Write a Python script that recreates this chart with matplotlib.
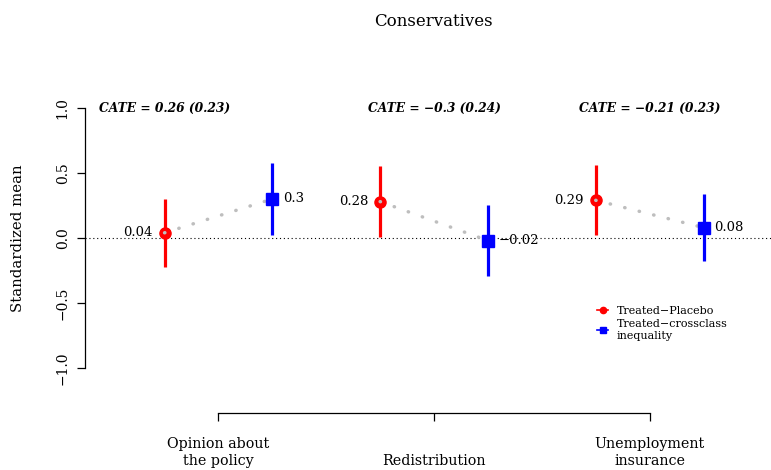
import matplotlib
matplotlib.use("Agg")
import matplotlib.pyplot as plt
from matplotlib.lines import Line2D
import matplotlib.transforms as mtransforms

plt.rcParams['font.family'] = ['DejaVu Serif']

categories = ["Opinion about\nthe policy", "Redistribution", "Unemployment\ninsurance"]
placebo_mean = [0.04, 0.28, 0.29]
placebo_lo = [-0.22, 0.01, 0.02]
placebo_hi = [0.30, 0.55, 0.56]
cross_mean = [0.30, -0.02, 0.08]
cross_lo = [0.02, -0.29, -0.18]
cross_hi = [0.58, 0.25, 0.34]
cate = [0.26, -0.3, -0.21]
cate_se = [0.23, 0.24, 0.23]
yticks = [-1.0, -0.5, 0.0, 0.5, 1.0]
ytick_labels = ["\u22121.0", "\u22120.5", "0.0", "0.5", "1.0"]
series_labels = ["Treated\u2212Placebo", "Treated\u2212crossclass\ninequality"]

def fmt(v):
    return f"{v:g}".replace('-', '\u2212')

fig = plt.figure(figsize=(7.71, 4.70), dpi=100)
ax = fig.add_axes([85/771, 57/470, 686/771, 350/470])
ax.set_xlim(0.381, 3.563)
ax.set_ylim(-1.346, 1.346)

off = 0.25
xs = [1, 2, 3]
ax.axhline(0, color='black', lw=0.8, ls=(0, (1, 2.5)), zorder=1)

for i, x in enumerate(xs):
    xr, xb = x - off, x + off
    ax.plot([xr, xr], [placebo_lo[i], placebo_hi[i]], color='red', lw=2.3, solid_capstyle='butt', zorder=2)
    ax.plot([xr], [placebo_mean[i]], marker='o', ms=8, color='red', zorder=3)
    ax.plot([xr, xb], [placebo_mean[i], cross_mean[i]], color='#BEBEBE', lw=2.5,
            ls=(0, (0.1, 4.2)), dash_capstyle='round', zorder=4)
    ax.plot([xb, xb], [cross_lo[i], cross_hi[i]], color='blue', lw=2.3, solid_capstyle='butt', zorder=5)
    ax.plot([xb], [cross_mean[i]], marker='s', ms=9, color='blue', zorder=6)
    tr_l = mtransforms.offset_copy(ax.transData, fig=fig, x=-12, y=0, units='dots')
    tr_r = mtransforms.offset_copy(ax.transData, fig=fig, x=11, y=0, units='dots')
    ax.text(xr, placebo_mean[i], fmt(placebo_mean[i]), transform=tr_l, ha='right', va='center', fontsize=9.5)
    ax.text(xb, cross_mean[i], fmt(cross_mean[i]), transform=tr_r, ha='left', va='center', fontsize=9.5)
    cx = x - off if i == 0 else x
    ax.text(cx, 1.0, f"CATE = {fmt(cate[i])} ({fmt(cate_se[i])})", ha='center', va='center',
            fontsize=8.8, fontweight='bold', fontstyle='italic')

ax.spines['top'].set_visible(False)
ax.spines['right'].set_visible(False)
ax.spines['left'].set_bounds(-1, 1)
ax.spines['bottom'].set_bounds(1, 3)
ax.set_yticks(yticks)
ax.set_yticklabels(ytick_labels, rotation=90, va='center', fontsize=10)
ax.tick_params(axis='y', length=6, width=0.9, pad=5)
ax.set_xticks(xs)
ax.set_xticklabels([])
ax.tick_params(axis='x', length=6, width=0.9)
for s in ['left', 'bottom']:
    ax.spines[s].set_linewidth(0.9)

btr = mtransforms.blended_transform_factory(ax.transData, fig.transFigure)
for x, lab in zip(xs, categories):
    ax.text(x, 2/470, lab, transform=btr, ha='center', va='bottom', fontsize=10.3, linespacing=1.3)

ax.set_ylabel("Standardized mean", fontsize=10.7, labelpad=22)
fig.text(433/771, 1 - 22/470, "Conservatives", ha='center', va='center', fontsize=12)

handles = [Line2D([0], [0], color='red', marker='o', ms=4.5, lw=1.2),
           Line2D([0], [0], color='blue', marker='s', ms=4.5, lw=1.2)]
leg = ax.legend(handles, series_labels, loc='upper left', bbox_to_anchor=(597/771, 1 - 306/470),
                bbox_transform=fig.transFigure, frameon=False, fontsize=8, handlelength=1.0,
                handletextpad=0.8, labelspacing=0.3, borderpad=0, borderaxespad=0)

fig.savefig("out.png", dpi=100)
